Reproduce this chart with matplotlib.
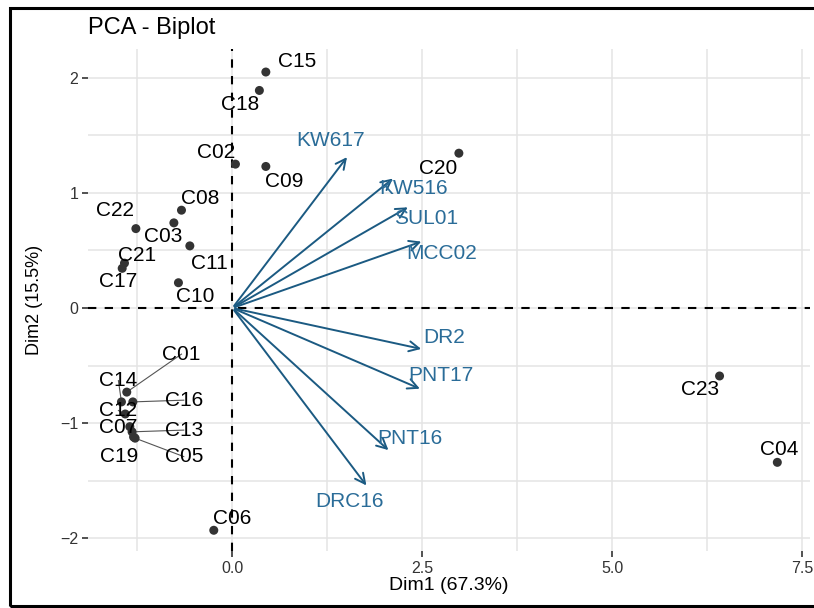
import matplotlib.pyplot as plt
from matplotlib.patches import Rectangle

plt.rcParams['font.family'] = ['Liberation Sans', 'DejaVu Sans']

# individuals (cultivars) coordinates on Dim1 / Dim2
ind_names = ['C15', 'C18', 'C02', 'C09', 'C08', 'C22', 'C03', 'C11', 'C21', 'C17', 'C10', 'C20',
             'C01', 'C14', 'C16', 'C12', 'C07', 'C13', 'C19', 'C05', 'C06', 'C23', 'C04']
ind_x = [0.44, 0.355, 0.04, 0.44, -0.67, -1.27, -0.77, -0.56, -1.42, -1.45, -0.71, 2.98,
         -1.39, -1.46, -1.31, -1.41, -1.35, -1.32, -1.30, -1.28, -0.245, 6.41, 7.17]
ind_y = [2.05, 1.89, 1.25, 1.23, 0.85, 0.69, 0.74, 0.54, 0.39, 0.345, 0.22, 1.345,
         -0.73, -0.815, -0.815, -0.92, -1.03, -1.075, -1.12, -1.13, -1.93, -0.59, -1.34]

# variables (arrows)
var_names = ['KW617', 'KW516', 'SUL01', 'MCC02', 'DR2', 'PNT17', 'PNT16', 'DRC16']
var_x = [1.53, 2.14, 2.34, 2.52, 2.52, 2.50, 2.08, 1.785]
var_y = [1.33, 1.14, 0.887, 0.585, -0.36, -0.71, -1.25, -1.56]

# label placement (repelled text positions)
ind_lab = {'C15': (0.855, 2.14), 'C18': (0.105, 1.77), 'C02': (-0.22, 1.35), 'C09': (0.675, 1.10),
           'C08': (-0.43, 0.95), 'C22': (-1.55, 0.85), 'C03': (-0.91, 0.62), 'C11': (-0.30, 0.39),
           'C21': (-1.25, 0.46), 'C17': (-1.51, 0.23), 'C10': (-0.49, 0.10), 'C20': (2.71, 1.215),
           'C01': (-0.67, -0.40), 'C14': (-1.50, -0.63), 'C16': (-0.64, -0.80), 'C12': (-1.50, -0.89),
           'C07': (-1.50, -1.04), 'C13': (-0.64, -1.06), 'C19': (-1.49, -1.29), 'C05': (-0.64, -1.29),
           'C06': (0.0, -1.83), 'C23': (6.15, -0.71), 'C04': (7.19, -1.23)}
segs = ['C01', 'C16', 'C13', 'C05', 'C14', 'C12']
var_lab = {'KW617': (1.29, 1.455), 'KW516': (2.39, 1.04), 'SUL01': (2.55, 0.78), 'MCC02': (2.75, 0.47),
           'DR2': (2.79, -0.26), 'PNT17': (2.74, -0.59), 'PNT16': (2.33, -1.13), 'DRC16': (1.54, -1.68)}

W, H = 814, 608
fig = plt.figure(figsize=(W / 100, H / 100), dpi=100)
ax = fig.add_axes([88 / W, 1 - 551 / H, (810 - 88) / W, (551 - 49) / H])

ax.set_xlim(-1.9, 7.6)
ax.set_ylim(-2.11, 2.25)
ax.set_xticks([0, 2.5, 5.0, 7.5])
ax.set_xticklabels(['0.0', '2.5', '5.0', '7.5'])
ax.set_yticks([-2, -1, 0, 1, 2])
ax.set_xticks([-1.25, 1.25, 3.75, 6.25], minor=True)
ax.set_yticks([-1.5, -0.5, 0.5, 1.5], minor=True)
ax.grid(which='both', color='#e4e4e4', lw=1.1)
ax.set_axisbelow(True)
for s in ax.spines.values():
    s.set_visible(False)
ax.tick_params(which='major', length=4, width=1.2, color='#333333', labelsize=11.5, labelcolor='#333333', pad=3)
ax.tick_params(which='minor', length=0)

ax.axhline(0, color='black', lw=1.5, ls=(0, (4, 4)), zorder=1)
ax.axvline(0, color='black', lw=1.5, ls=(0, (4, 4)), zorder=1)

for n, x, y in zip(ind_names, ind_x, ind_y):
    tx, ty = ind_lab[n]
    if n in segs:
        ax.plot([x, tx], [y, ty], color='#555555', lw=0.8, zorder=2)
ax.scatter(ind_x, ind_y, s=42, color='#333333', zorder=3, edgecolors='none')
for n in ind_names:
    tx, ty = ind_lab[n]
    ax.text(tx, ty, n, fontsize=15, color='black', ha='center', va='center', zorder=4)

for n, x, y in zip(var_names, var_x, var_y):
    ax.annotate('', xy=(x, y), xytext=(0, 0),
                arrowprops=dict(arrowstyle='->', color='#1b5a82', lw=1.4, mutation_scale=18))
    tx, ty = var_lab[n]
    ax.text(tx, ty, n, fontsize=15, color='#2a6c98', ha='center', va='center', zorder=4)

ax.set_xlabel('Dim1 (67.3%)', fontsize=14, labelpad=1)
ax.set_ylabel('Dim2 (15.5%)', fontsize=13, labelpad=12)
fig.text(88 / W, 1 - 28 / H, 'PCA - Biplot', fontsize=17, ha='left', va='center')

fig.patches.append(Rectangle((10 / W, 1 - 606 / H), 1.2, (606 - 8) / H, transform=fig.transFigure,
                             fill=False, edgecolor='black', lw=2.2))

fig.savefig('out.png', dpi=100)
